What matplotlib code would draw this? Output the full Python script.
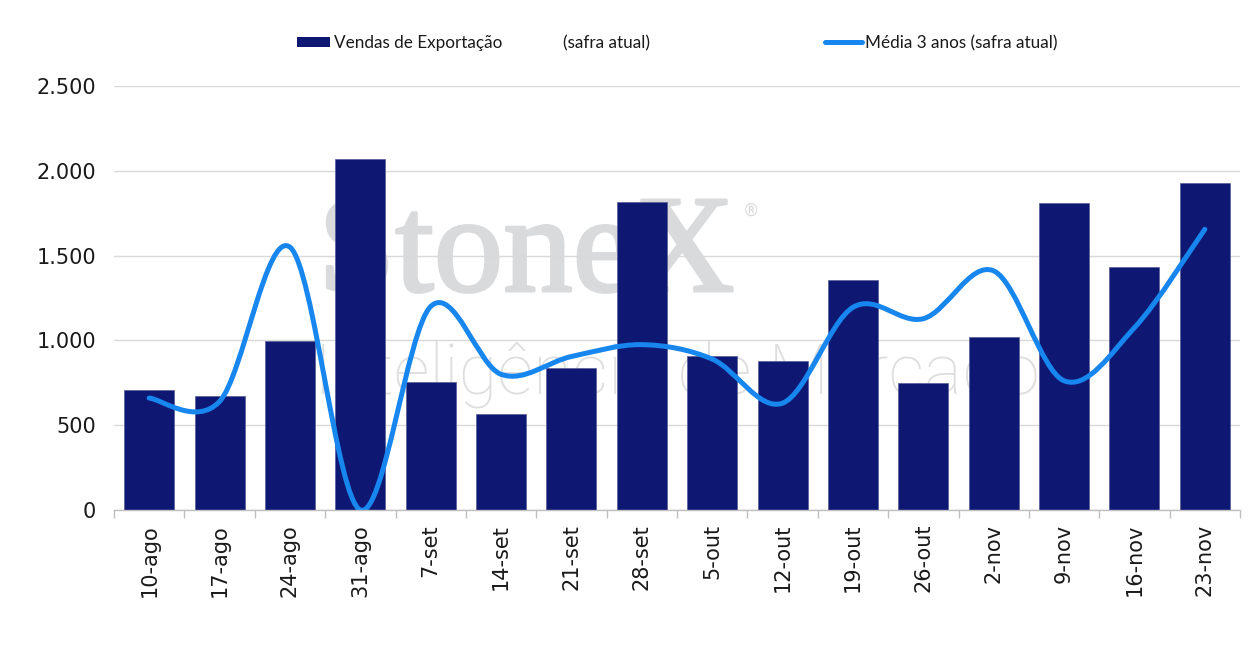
import matplotlib
matplotlib.use("Agg")
import matplotlib.pyplot as plt
import matplotlib.patheffects as pe
from matplotlib.path import Path
from matplotlib.patches import PathPatch, Patch
from matplotlib.lines import Line2D
from matplotlib.ticker import FuncFormatter, FixedLocator
import numpy as np

# --- dados ---
semanas = ["10-ago", "17-ago", "24-ago", "31-ago", "7-set", "14-set", "21-set", "28-set",
           "5-out", "12-out", "19-out", "26-out", "2-nov", "9-nov", "16-nov", "23-nov"]
vendas = [706, 673, 994, 2068, 754, 566, 840, 1816,
          906, 881, 1355, 746, 1018, 1810, 1433, 1928]
media_3anos = [660, 640, 1550, 0, 1200, 800, 905, 975,
               890, 630, 1195, 1128, 1410, 762, 1075, 1655]

COR_BARRA = "#0E1873"
COR_LINHA = "#1786EE"
COR_MARCA = "#D9DADC"


def caminho_suave(xs, ys):
    """Curva suavizada (Catmull-Rom em Bezier cubica), como a linha suave do Excel."""
    pts = np.column_stack([xs, ys]).astype(float)
    n = len(pts)
    verts = [pts[0]]
    codes = [Path.MOVETO]
    for i in range(n - 1):
        p0 = pts[i - 1] if i > 0 else pts[i]
        p1 = pts[i]
        p2 = pts[i + 1]
        p3 = pts[i + 2] if i + 2 < n else pts[i + 1]
        c1 = p1 + (p2 - p0) / 6.0
        c2 = p2 - (p3 - p1) / 6.0
        verts += [c1, c2, p2]
        codes += [Path.CURVE4] * 3
    return Path(verts, codes)


fig = plt.figure(figsize=(12.58, 6.52), dpi=100)
ax = fig.add_axes([114 / 1258, 1 - 510 / 652, (1240 - 114) / 1258, (510 - 86) / 652])

x = np.arange(len(semanas))

# marca d'agua (atras das barras)
ax.text(318 / 1258, 1 - 291 / 652, "StoneX", transform=fig.transFigure,
        family="Liberation Serif", fontsize=100, color=COR_MARCA,
        ha="left", va="baseline", zorder=0.2,
        path_effects=[pe.withStroke(linewidth=2.2, foreground=COR_MARCA)])
ax.text(743 / 1258, 1 - 216 / 652, "®", transform=fig.transFigure,
        family="DejaVu Sans", fontsize=12, color=COR_MARCA,
        ha="left", va="baseline", zorder=0.2)
ax.text(314 / 1258, 1 - 393 / 652, "Inteligência de Mercado", transform=fig.transFigure,
        family="Roboto", fontweight="light", fontsize=51, color="#DEDEDE",
        ha="left", va="baseline", zorder=0.2)

ax.bar(x, vendas, width=0.71, color=COR_BARRA, edgecolor="#565c95", linewidth=0.5, zorder=2)

curva = PathPatch(caminho_suave(x, media_3anos), facecolor="none", edgecolor=COR_LINHA,
                  linewidth=3.6, capstyle="round", joinstyle="round", zorder=3)
ax.add_patch(curva)

ax.set_xlim(-0.5, len(semanas) - 0.5)
ax.set_ylim(0, 2500)
ax.set_yticks([0, 500, 1000, 1500, 2000, 2500])
ax.yaxis.set_major_formatter(FuncFormatter(lambda v, p: f"{int(v):,}".replace(",", ".")))

ax.set_axisbelow(True)
ax.grid(axis="y", color="#D9D9D9", linewidth=1.0, zorder=0.5)
for s in ["top", "right", "left"]:
    ax.spines[s].set_visible(False)
ax.spines["bottom"].set_color("#BFBFBF")
ax.spines["bottom"].set_linewidth(1.0)
ax.spines["bottom"].set_zorder(4)

ax.set_xticks(x)
ax.set_xticklabels(semanas, rotation=90, fontsize=15, color="#1a1a1a")
ax.xaxis.set_minor_locator(FixedLocator(np.arange(-0.5, len(semanas), 1.0)))
ax.tick_params(axis="x", which="major", length=0, pad=10)
ax.tick_params(axis="x", which="minor", length=6, color="#BFBFBF", width=1.0)
ax.tick_params(axis="y", length=0, pad=13, labelsize=15, labelcolor="#1a1a1a")

# legenda
fs_leg = 12.3
leg1 = fig.legend(handles=[Patch(facecolor=COR_BARRA, edgecolor="none")],
                  labels=["Vendas de Exportação"], loc="center left",
                  bbox_to_anchor=(297 / 1258, 1 - 43 / 652), frameon=False,
                  prop={"family": "Lato", "size": fs_leg}, handlelength=1.95,
                  handleheight=0.5, handletextpad=0.22, borderpad=0, borderaxespad=0)
fig.text(563 / 1258, 1 - 43 / 652, "(safra atual)", family="Lato", fontsize=fs_leg,
         ha="left", va="center", color="#1a1a1a")
leg2 = fig.legend(handles=[Line2D([], [], color=COR_LINHA, linewidth=3.6, solid_capstyle="round")],
                  labels=["Média 3 anos (safra atual)"], loc="center left",
                  bbox_to_anchor=(825 / 1258, 1 - 43 / 652), frameon=False,
                  prop={"family": "Lato", "size": fs_leg}, handlelength=2.15,
                  handletextpad=0.18, borderpad=0, borderaxespad=0)
for lg in (leg1, leg2):
    for t in lg.get_texts():
        t.set_color("#1a1a1a")

fig.savefig("out.png", dpi=100, facecolor="white")
